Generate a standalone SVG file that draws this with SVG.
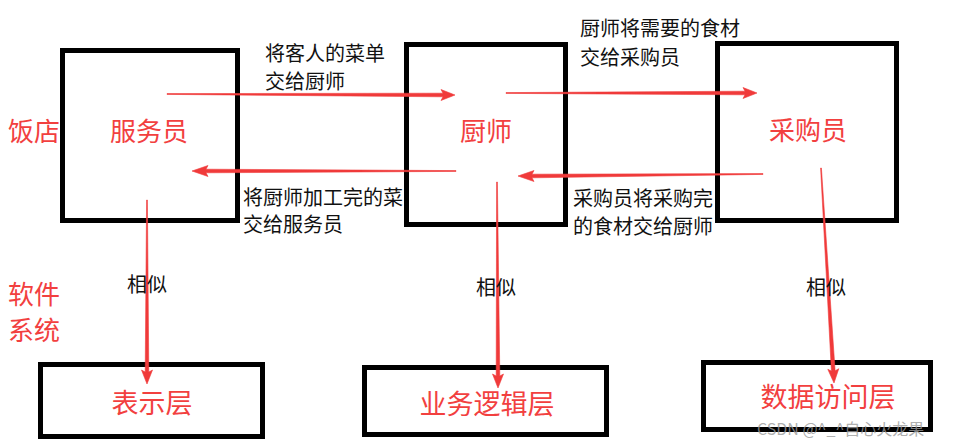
<svg xmlns="http://www.w3.org/2000/svg" width="978" height="448" viewBox="0 0 978 448">
<style>
.box{fill:none;stroke:#000;stroke-width:5}
.red{fill:#f2403f;font-family:"Noto Sans CJK SC","Noto Sans",sans-serif}
.big{font-size:26px}
.lay{font-size:27px;text-anchor:middle}
.lbl{fill:#111;font-family:"Noto Sans CJK SC","Noto Sans",sans-serif;font-size:20px}
.arr{fill:#f03a3a;stroke:#f03a3a;stroke-width:0.6;stroke-linejoin:round}
.wm{fill:#9a9a9a;fill-opacity:0.8;font-family:"Noto Sans CJK SC","Liberation Sans",sans-serif;font-size:16px}
</style>
<rect width="978" height="448" fill="#fff"/>
<g id="labels-side">
<text class="red big" x="8" y="141">饭店</text>
<text class="red big" x="8" y="304">软件</text>
<text class="red big" x="8" y="340">系统</text>
</g>
<g id="waiter">
<rect class="box" x="62.5" y="50.5" width="175" height="170"/>
<text class="red big" x="149" y="141" text-anchor="middle">服务员</text>
</g>
<g id="chef">
<rect class="box" x="406.5" y="44.5" width="159" height="180"/>
<text class="red big" x="486" y="141" text-anchor="middle">厨师</text>
</g>
<g id="buyer">
<rect class="box" x="717.5" y="43.5" width="179" height="177"/>
<text class="red big" x="808" y="140" text-anchor="middle">采购员</text>
</g>
<g id="presentation">
<rect class="box" x="40.5" y="364.5" width="222" height="72"/>
<text class="red lay" x="152" y="413">表示层</text>
</g>
<g id="business">
<rect class="box" x="364.5" y="367.5" width="242" height="67"/>
<text class="red lay" x="487" y="414">业务逻辑层</text>
</g>
<g id="data">
<rect class="box" x="703.5" y="362.5" width="227" height="67"/>
<text class="red lay" x="828" y="407">数据访问层</text>
</g>
<g id="connectors">
<path class="arr" d="M167,93.6 L443,93.2 L441,89.5 L455,95 L441,100.5 L443,96.8 L167,94.4 Z"/>
<path class="arr" d="M456,170.6 L206,169.2 L208,165.5 L192,171 L208,176.5 L206,172.8 L456,171.4 Z"/>
<path class="arr" d="M506,92.6 L745,91.2 L743,87.5 L757,93 L743,98.5 L745,94.8 L506,93.4 Z"/>
<path class="arr" d="M763,173.6 L532,174.2 L534,170.5 L518,176 L534,181.5 L532,177.8 L763,174.4 Z"/>
<path class="arr" d="M146.6,200 L145.2,372 L141.5,370 L147,384 L152.5,370 L148.8,372 L147.4,200 Z"/>
<path class="arr" d="M496.6,182 L496.2,376 L492.5,374 L498,388 L503.5,374 L499.8,376 L497.4,182 Z"/>
<path class="arr" d="M820.6,168 L831.4,371 L827.8,369.3 L834,383 L838.8,368.7 L835.1,370.8 L821.4,168 Z"/>
</g>
<g id="connector-labels">
<text class="lbl" x="265" y="61">将客人的菜单</text>
<text class="lbl" x="265" y="89">交给厨师</text>
<text class="lbl" x="243" y="205">将厨师加工完的菜</text>
<text class="lbl" x="243" y="232">交给服务员</text>
<text class="lbl" x="580" y="36">厨师将需要的食材</text>
<text class="lbl" x="580" y="65">交给采购员</text>
<text class="lbl" x="573" y="206">采购员将采购完</text>
<text class="lbl" x="573" y="234">的食材交给厨师</text>
<text class="lbl" x="127" y="292">相似</text>
<text class="lbl" x="476" y="295">相似</text>
<text class="lbl" x="806" y="295">相似</text>
</g>
<text class="wm" x="757" y="435">CSDN @^_^自心火龙果</text>
</svg>
